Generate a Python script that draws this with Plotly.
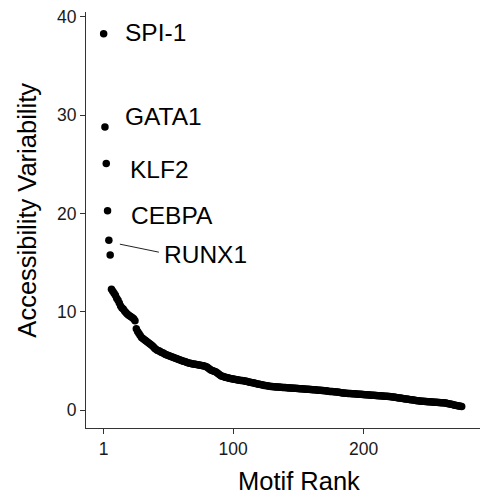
import plotly.graph_objects as go

# Accessibility variability per motif, ordered by rank
variability = [
    38.3, 28.8, 25.1, 20.3, 17.3, 15.8, 12.3, 12.1, 11.9, 11.7,
    11.4, 11.2, 10.9, 10.6, 10.4, 10.3, 10.1, 9.95, 9.8, 9.7,
    9.6, 9.5, 9.4, 9.3, 9.1, 8.3, 8.0, 7.8, 7.6, 7.4,
    7.3, 7.2, 7.1, 7.0, 6.9, 6.8, 6.7, 6.6, 6.45, 6.3,
    6.2, 6.1, 6.05, 6.0, 5.9, 5.85, 5.8, 5.7, 5.65, 5.6,
    5.55, 5.5, 5.45, 5.4, 5.35, 5.3, 5.25, 5.2, 5.15, 5.1,
    5.05, 5.0, 4.95, 4.9, 4.85, 4.8, 4.78, 4.75, 4.72, 4.7,
    4.68, 4.65, 4.62, 4.6, 4.58, 4.55, 4.52, 4.5, 4.45, 4.4,
    4.3, 4.2, 4.1, 4.05, 4.0, 3.95, 3.9, 3.8, 3.7, 3.6,
    3.5, 3.45, 3.4, 3.37, 3.34, 3.3, 3.27, 3.24, 3.21, 3.18,
    3.15, 3.12, 3.1, 3.08, 3.06, 3.04, 3.02, 3.0, 2.98, 2.95,
    2.92, 2.89, 2.86, 2.83, 2.8, 2.77, 2.74, 2.71, 2.68, 2.65,
    2.62, 2.59, 2.56, 2.53, 2.51, 2.49, 2.47, 2.45, 2.43, 2.41,
    2.4, 2.39, 2.38, 2.37, 2.36, 2.35, 2.34, 2.33, 2.32, 2.31,
    2.3, 2.29, 2.28, 2.27, 2.26, 2.25, 2.24, 2.23, 2.22, 2.21,
    2.2, 2.19, 2.18, 2.17, 2.16, 2.15, 2.14, 2.13, 2.12, 2.11,
    2.1, 2.09, 2.08, 2.06, 2.05, 2.04, 2.03, 2.02, 2.01, 2.0,
    1.98, 1.96, 1.94, 1.92, 1.91, 1.9, 1.89, 1.88, 1.87, 1.85,
    1.83, 1.81, 1.79, 1.77, 1.75, 1.74, 1.73, 1.72, 1.71, 1.7,
    1.69, 1.68, 1.67, 1.66, 1.65, 1.64, 1.63, 1.62, 1.61, 1.6,
    1.59, 1.58, 1.57, 1.56, 1.55, 1.54, 1.53, 1.52, 1.51, 1.5,
    1.49, 1.48, 1.47, 1.46, 1.45, 1.44, 1.43, 1.42, 1.41, 1.4,
    1.38, 1.36, 1.34, 1.32, 1.3, 1.28, 1.26, 1.24, 1.22, 1.2,
    1.18, 1.16, 1.14, 1.12, 1.1, 1.08, 1.06, 1.04, 1.02, 1.0,
    0.98, 0.96, 0.94, 0.93, 0.92, 0.91, 0.9, 0.89, 0.88, 0.87,
    0.86, 0.85, 0.84, 0.83, 0.82, 0.81, 0.8, 0.79, 0.78, 0.77,
    0.76, 0.75, 0.73, 0.7, 0.67, 0.64, 0.61, 0.58, 0.55, 0.52,
    0.5, 0.47, 0.44, 0.41, 0.38,
]
ranks = list(range(1, len(variability) + 1))

label_names = ["SPI-1", "GATA1", "KLF2", "CEBPA", "RUNX1"]
label_ranks = [1, 2, 3, 4, 5]

x_ticks = [1, 100, 200]
y_ticks = [0, 10, 20, 30, 40]

x_title = "Motif Rank"
y_title = "Accessibility Variability"

FONT = "Liberation Sans, Arial, Helvetica, sans-serif"

fig = go.Figure()
fig.add_trace(go.Scatter(
    x=ranks, y=variability, mode="markers",
    marker=dict(color="black", size=7.5, line=dict(width=0)),
    hoverinfo="x+y", showlegend=False,
))

# label offsets in pixels (style, not data)
offsets = {"SPI-1": (19, 1), "GATA1": (18, 11), "KLF2": (22, -6),
           "CEBPA": (21, -5), "RUNX1": (53, -14)}
for name, r in zip(label_names, label_ranks):
    dx, dy = offsets[name]
    fig.add_annotation(
        x=r, y=variability[r - 1], xref="x", yref="y",
        text=name, showarrow=False, xanchor="left", yanchor="middle",
        xshift=dx, yshift=dy,
        font=dict(family=FONT, size=24.5, color="black"),
    )

# connector segment for RUNX1
r5 = label_ranks[4]
fig.add_shape(
    type="line", xref="x", yref="y",
    xsizemode="pixel", ysizemode="pixel",
    xanchor=r5, yanchor=variability[r5 - 1],
    x0=11, y0=-4, x1=50, y1=-12,
    line=dict(color="#222222", width=1),
)

# axis titles (placed as in the reference)
fig.add_annotation(
    text=x_title, xref="paper", yref="paper", x=0.5406, y=-0.128,
    xanchor="center", yanchor="middle", showarrow=False,
    font=dict(family=FONT, size=25.5, color="black"),
)
fig.add_annotation(
    text=y_title, xref="paper", yref="paper", x=-0.152, y=0.5228,
    xanchor="center", yanchor="middle", showarrow=False, textangle=-90,
    font=dict(family=FONT, size=25.5, color="black"),
)

axis_common = dict(
    showgrid=False, zeroline=False, showline=True, linecolor="#333333",
    linewidth=1.2, ticks="outside", ticklen=5, tickcolor="#333333",
    tickwidth=1.1, automargin=False,
    tickfont=dict(family=FONT, size=17.5, color="#1a1a1a"),
)

fig.update_layout(
    width=480, height=500,
    margin=dict(l=86, r=0, t=12, b=72),
    plot_bgcolor="white", paper_bgcolor="white",
    xaxis=dict(range=[-12.5, 289], tickvals=x_ticks,
               ticktext=[str(v) for v in x_ticks], **axis_common),
    yaxis=dict(range=[-1.8, 40.5], tickvals=y_ticks, **axis_common),
)

fig.write_html(
    "out.html",
    config={"displayModeBar": False},
    post_script="document.body.style.margin='0';document.body.style.overflow='hidden';",
)
